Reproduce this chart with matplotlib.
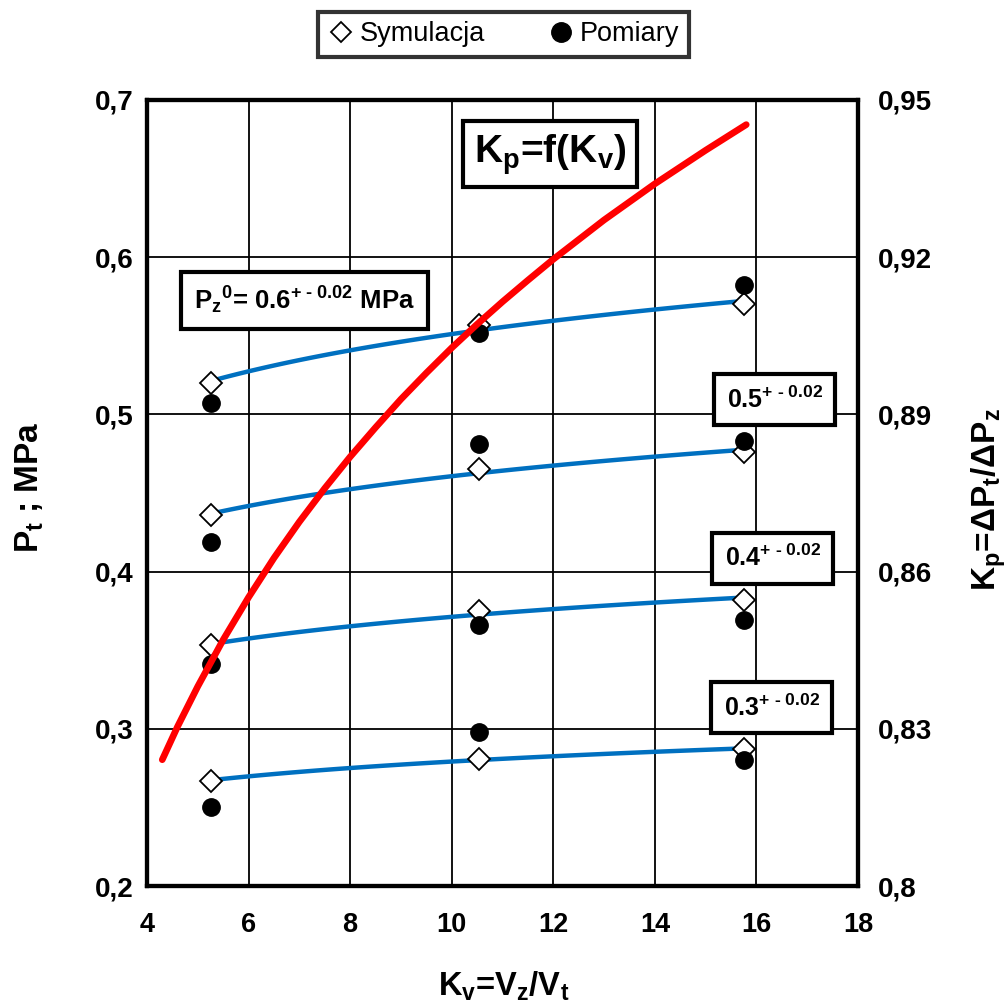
import numpy as np
import matplotlib
matplotlib.use("Agg")
from matplotlib import pyplot as plt
from matplotlib.lines import Line2D

plt.rcParams['font.family'] = ['Liberation Sans', 'DejaVu Sans']
plt.rcParams['mathtext.fontset'] = 'custom'
plt.rcParams['mathtext.rm'] = 'Liberation Sans:bold'
plt.rcParams['mathtext.bf'] = 'Liberation Sans:bold'
plt.rcParams['mathtext.default'] = 'bf'

# Kv = Vz/Vt
kv = [5.26, 10.53, 15.76]

# symulacja (P_t, MPa) dla Pz0 = 0.6, 0.5, 0.4, 0.3
sym_06 = [0.520, 0.557, 0.570]
sym_05 = [0.436, 0.465, 0.476]
sym_04 = [0.353, 0.375, 0.382]
sym_03 = [0.267, 0.281, 0.287]

# pomiary
pom_06 = [0.507, 0.552, 0.582]
pom_05 = [0.419, 0.481, 0.483]
pom_04 = [0.341, 0.366, 0.369]
pom_03 = [0.250, 0.298, 0.280]

# Kp = f(Kv), prawa oś
kv_kp = [4.3, 4.6, 5.0, 5.5, 6.0, 6.5, 7.0, 7.5, 8.0, 8.5, 9.0, 9.5, 10.0,
         10.5, 11.0, 11.5, 12.0, 13.0, 14.0, 15.0, 15.8]
kp = [0.8241, 0.8304, 0.8381, 0.8470, 0.8551, 0.8626, 0.8695, 0.8759, 0.8819, 0.8875,
      0.8929, 0.8979, 0.9027, 0.9072, 0.9115, 0.9156, 0.9196, 0.9271, 0.9340, 0.9404, 0.9453]

left_ticks = [0.2, 0.3, 0.4, 0.5, 0.6, 0.7]
right_ticks = [0.80, 0.83, 0.86, 0.89, 0.92, 0.95]
x_ticks = [4, 6, 8, 10, 12, 14, 16, 18]

fig = plt.figure(figsize=(10.07, 10.05), dpi=100)
ax = fig.add_axes([0.146, 0.1184, 0.706, 0.7821])
ax2 = ax.twinx()

ax.set_xlim(4, 18)
ax.set_ylim(0.2, 0.7)
ax2.set_ylim(0.8, 0.95)
ax.grid(True, color='black', lw=1.3)
ax.set_axisbelow(True)

kx = np.array(kv)
xs = np.linspace(kx[0], kx[-1], 100)
for sym, pom in [(sym_06, pom_06), (sym_05, pom_05), (sym_04, pom_04), (sym_03, pom_03)]:
    # trend logarytmiczny przez punkty symulacji
    a, b = np.polyfit(np.log(kx), sym, 1)
    ax.plot(xs, a * np.log(xs) + b, color='#0070c0', lw=3.2, zorder=3)
    ax.plot(kv, sym, 'D', ms=11, mfc='white', mec='black', mew=1.3, zorder=4)
    ax.plot(kv, pom, 'o', ms=12.5, color='black', zorder=4)

ax2.plot(kv_kp, kp, color='red', lw=4.8, solid_capstyle='round', solid_joinstyle='round', zorder=5)

ax.set_xticks(x_ticks)
ax.set_yticks(left_ticks)
ax2.set_yticks(right_ticks)
ax.set_xticklabels([str(t) for t in x_ticks], fontsize=19.5, fontweight='bold')
ax.set_yticklabels([f'{t:g}'.replace('.', ',') for t in left_ticks], fontsize=20, fontweight='bold')
ax2.set_yticklabels([f'{t:g}'.replace('.', ',') for t in right_ticks], fontsize=20, fontweight='bold')
ax.tick_params(axis='x', length=0, pad=19)
ax.tick_params(axis='y', length=0, pad=10)
ax2.tick_params(length=0, pad=14)
for s in ax.spines.values():
    s.set_linewidth(3)
for s in ax2.spines.values():
    s.set_linewidth(3)

fig.text(0.030, 0.515, 'P$_t$ ; MPa', rotation=90, ha='center', va='center',
         fontsize=24, fontweight='bold')
fig.text(0.982, 0.503, 'K$_p$=ΔP$_t$/ΔP$_z$', rotation=90, ha='center', va='center',
         fontsize=24, fontweight='bold')
fig.text(0.500, 0.019, 'K$_v$=V$_z$/V$_t$', ha='center', va='center',
         fontsize=23.5, fontweight='bold')

ax.text(0.567, 0.931, 'K$_p$=f(K$_v$)', transform=ax.transAxes, ha='center', va='center',
        fontsize=28, fontweight='bold',
        bbox=dict(boxstyle='square,pad=0.28', fc='white', ec='black', lw=3), zorder=6)
ax.text(0.2215, 0.745, 'P$_z$$^0$= 0.6$^{+\\text{ - 0.02}}$ MPa', transform=ax.transAxes,
        ha='center', va='center', fontsize=18.5, fontweight='bold',
        bbox=dict(boxstyle='square,pad=0.5', fc='white', ec='black', lw=3), zorder=6)
small = dict(boxstyle='square,pad=0.5', fc='white', ec='black', lw=3)
for txt, xx, yy in [('0.5$^{+\\text{ - 0.02}}$', 0.883, 0.619),
                    ('0.4$^{+\\text{ - 0.02}}$', 0.880, 0.417),
                    ('0.3$^{+\\text{ - 0.02}}$', 0.879, 0.227)]:
    ax.text(xx, yy, txt, transform=ax.transAxes, ha='center', va='center',
            fontsize=18, fontweight='bold', bbox=small, zorder=6)

handles = [Line2D([], [], ls='none', marker='D', ms=10, mfc='white', mec='black', mew=1.3),
           Line2D([], [], ls='none', marker='o', ms=14, color='black')]
leg = fig.legend(handles, ['Symulacja', 'Pomiary'], loc='center', bbox_to_anchor=(0.5, 0.966),
                 ncol=2, fontsize=19.5, frameon=True, fancybox=False, handletextpad=0.2,
                 columnspacing=2.3, borderpad=0.35, handlelength=1.0, borderaxespad=0.0)
leg.get_frame().set_edgecolor('black')
leg.get_frame().set_linewidth(3)

plt.savefig('out.png', dpi=100)
